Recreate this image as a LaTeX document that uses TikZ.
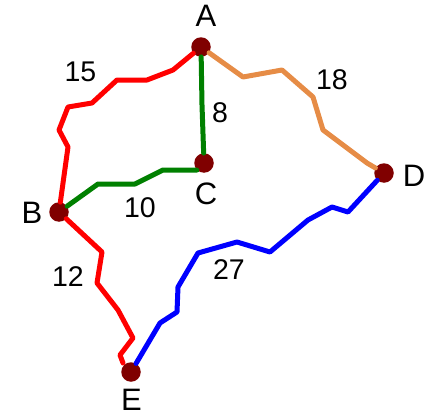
\documentclass[tikz,border=0pt]{standalone}
\usepackage{fontspec}
\setmainfont{Liberation Sans}
\usetikzlibrary{calc}
\definecolor{maroon2}{rgb}{0.5,0.0,0.0}
\definecolor{redline}{rgb}{1.0,0.0,0.0}
\definecolor{greenline}{rgb}{0.0,0.5,0.0}
\definecolor{orangeline}{rgb}{0.9019608,0.5490196,0.2745098}
\definecolor{blueline}{rgb}{0.0,0.0,1.0}
\tikzset{town/.style={circle,fill=maroon2,draw=none,inner sep=0pt,
minimum size=19.5pt},
townname/.style={inner sep=0pt, font=\fontsize{31}{31}\selectfont},
dist/.style={inner sep=0pt, font=\fontsize{28.5}{28.5}\selectfont},
road/.style={line width=5pt, line join=round, line cap=round}}

\begin{document}
\begin{tikzpicture}[x=1pt,y=-1pt]
\useasboundingbox (0,0) rectangle (434,415);

\node(A) [town] at (201,47) {};
\node(B) [town] at (59,212) {};
\node(C) [town] at (204,163) {};
\node(D) [town] at (384,173) {};
\node(E) [town] at (131,372) {};

\node(An) [townname] at (206,16) {A};
\node(Bn) [townname] at (32,212.5) {B};
\node(Cn) [townname] at (206,193.5) {C};
\node(Dn) [townname] at (414,175.5) {D};
\node(En) [townname] at (131.5,400) {E};

\node(dAB) [dist] at (80.5,72) {15};
\node(dAC) [dist] at (220,113) {8};
\node(dAD) [dist] at (332,80) {18};
\node(dBC) [dist] at (140,208) {10};
\node(dBE) [dist] at (68,277) {12};
\node(dDE) [dist] at (229,270) {27};

\draw[road,redline]
(A)
   -- (173,70) -- (147,80) -- (117,80) -- (92,103) -- (68,107)
   -- (59,130) -- (68,147) --
(B);
\draw[road,greenline]
(A)
   -- (202,105) --
(C);
\draw[road,greenline]
(B)
   -- (98,184) -- (135,184) -- (163,170) -- (197,170) --
(C);
\draw[road,orangeline]
(A)
   -- (243,77) -- (282,70) -- (313,97) -- (323,130) -- (367,163) --
(D);
\draw[road,redline]
(B)
   -- (102,252) -- (97,283) -- (118,310) -- (133,338) -- (120,355)
   -- (123,363);
\draw[road,blueline]
(D)
   -- (348,212) -- (332,207) -- (308,220) -- (270,252) -- (237,242)
   -- (198,253) -- (178,287) -- (177,312) -- (160,323) --
(E);
\end{tikzpicture}
\end{document}
